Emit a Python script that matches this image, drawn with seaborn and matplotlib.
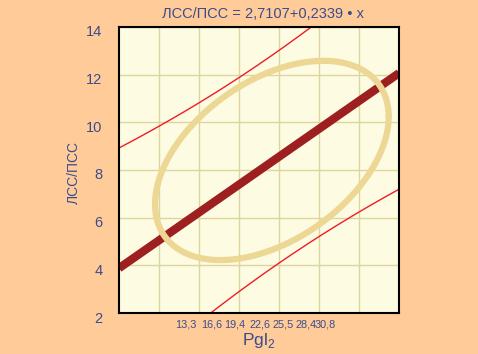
import matplotlib
matplotlib.use("Agg")
import matplotlib.pyplot as plt
import matplotlib.transforms as mtransforms
import numpy as np
import pandas as pd
import seaborn as sns

# regression from the title
intercept = 2.7107
slope = 0.2339
x_range = [5, 40]

# prediction band (half width at the mean and its growth)
x_mean = 24.1
band_half = 4.46
band_spread = 1309

# scatter ellipse
ell_cx = 24.1
ell_cy = 8.40
ell_sx = 14.6
ell_sy = 4.18
ell_rho = 0.44

x_ticks = [13.3, 16.6, 19.4, 22.6, 25.5, 28.4, 30.8]
x_ticklabels = ["13,3", "16,6", "19,4", "22,6", "25,5", "28,4", "30,8"]
x_grid = [10, 15, 20, 25, 30, 35]
y_ticks = [2, 4, 6, 8, 10, 12, 14]

bg = "#FFCC99"
panel = "#FEFBE3"
txt = "#3D4B8C"

sns.set_style("white")
plt.rcParams["font.family"] = ["Liberation Sans", "DejaVu Sans"]

fig = plt.figure(figsize=(4.78, 3.54), dpi=100, facecolor=bg)
ax = fig.add_axes([0.249, 0.1158, 0.586, 0.808])
ax.set_facecolor(panel)

xs = np.linspace(x_range[0], x_range[1], 200)
fit = intercept + slope * xs
half = band_half * np.sqrt(1 + (xs - x_mean) ** 2 / band_spread)
df = pd.DataFrame({"x": xs, "fit": fit, "upper": fit + half, "lower": fit - half})

t = np.linspace(0, 2 * np.pi, 300)
ell = pd.DataFrame({
    "x": ell_cx + ell_sx * np.cos(t),
    "y": ell_cy + ell_sy * (ell_rho * np.cos(t) + np.sqrt(1 - ell_rho ** 2) * np.sin(t)),
})

sns.lineplot(data=df, x="x", y="upper", color="#EE1C25", linewidth=1, ax=ax)
sns.lineplot(data=df, x="x", y="lower", color="#EE1C25", linewidth=1, ax=ax)
sns.lineplot(data=df, x="x", y="fit", color="#9E1F1F", linewidth=6, ax=ax,
             solid_capstyle="butt")
sns.lineplot(data=ell, x="x", y="y", sort=False, estimator=None,
             color="#EDD795", linewidth=4.5, ax=ax)

ax.set_xlim(x_range)
ax.set_ylim(2, 14)

ax.set_xticks(x_ticks)
ax.set_xticklabels(x_ticklabels)
ax.set_xticks(x_grid, minor=True)
ax.set_yticks(y_ticks)
ax.tick_params(axis="x", which="both", length=0, pad=5, labelsize=7.8, labelcolor=txt)
ax.tick_params(axis="y", length=0, pad=12, labelsize=10.5, labelcolor=txt)
ax.grid(False)
ax.xaxis.grid(True, which="minor", color="#DCD59C", linewidth=1)
ax.yaxis.grid(True, which="major", color="#DCD59C", linewidth=1)

# y labels sit a little below the grid lines in the original
off = mtransforms.ScaledTranslation(0, -4 / 100, fig.dpi_scale_trans)
for lab in ax.get_yticklabels():
    lab.set_transform(lab.get_transform() + off)

for s in ax.spines.values():
    s.set_color("black")
    s.set_linewidth(1.5)
    s.set_zorder(5)

ax.set_xlabel("")
ax.set_ylabel("ЛСС/ПСС", fontsize=10, color=txt)
ax.yaxis.set_label_coords(-0.137, 0.49)
fig.text(259 / 478, 1 - 340 / 354, r"Pgl$_{\mathregular{2}}$", ha="center", va="center",
         fontsize=12.5, color=txt)
fig.text(263 / 478, 1 - 14 / 354, "ЛСС/ПСС = 2,7107+0,2339 • x", ha="center", va="center",
         fontsize=10.5, color=txt)

fig.savefig("out.png", dpi=100, facecolor=bg)
